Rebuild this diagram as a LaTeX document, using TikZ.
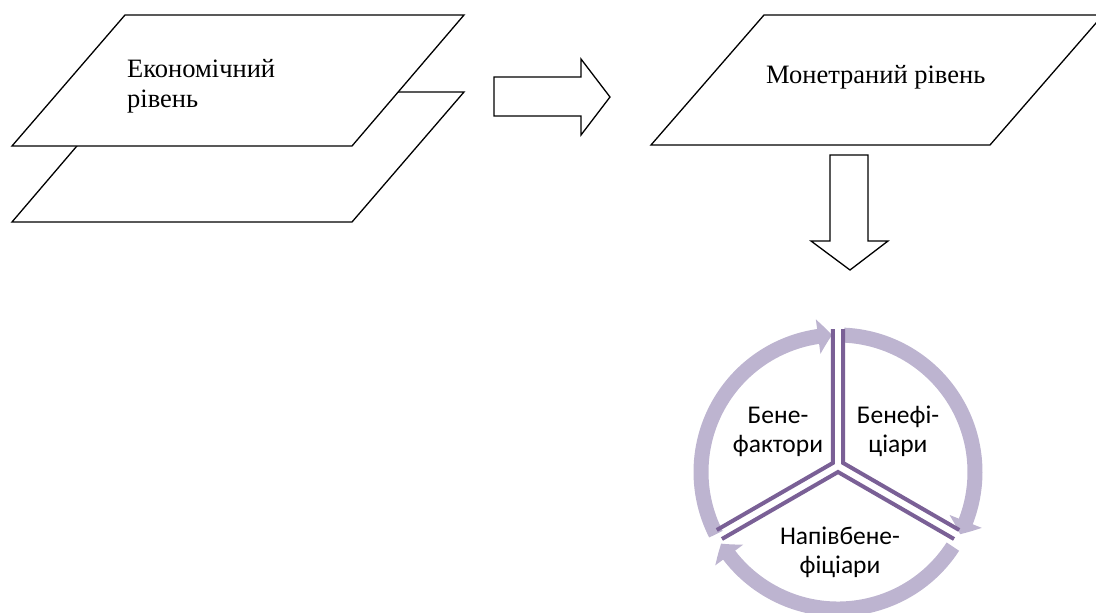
\documentclass[tikz,border=0pt]{standalone}
\usepackage{fontspec}
\setmainfont{Liberation Serif}
\newfontfamily\calib{Carlito}
\usetikzlibrary{arrows.meta, bending, calc}
\definecolor{ringcol}{RGB}{189,180,208}
\definecolor{pielines}{RGB}{122,96,150}
\tikzset{
  plane/.style={draw=black, line width=1.3pt, fill=white, line join=miter},
  blockarrow/.style={draw=black, line width=1.3pt, fill=white, line join=miter},
  serlabel/.style={font=\fontsize{26.5}{30}\selectfont, align=left, inner sep=0pt},
  pielabel/.style={font=\calib\fontsize{25.5}{29}\selectfont, align=center, inner sep=0pt},
  ringarc/.style={draw=ringcol, line width=15pt,
    -{Triangle[length=14pt, width=34pt, bend]}},
  divider/.style={draw=pielines, line width=4pt, line join=miter}
}
\begin{document}
\begin{tikzpicture}[x=1pt, y=-1pt]
\useasboundingbox (0,0) rectangle (1096,613);

% two stacked planes of the economic level
\draw[plane] (123,92) -- (464,92) -- (352,222) -- (12,222) -- cycle;
\draw[plane] (125,15) -- (464,15) -- (352,146) -- (12,146) -- cycle;
\node[serlabel, anchor=base west] (econ) at (127,107) {Економічний\\рівень};

% plane of the monetary level
\draw[plane] (764,15) -- (1103,15) -- (990,145) -- (651,145) -- cycle;
\node[serlabel, anchor=base west] (mon) at (766,83) {Монетраний рівень};

% block arrow to the right
\draw[blockarrow] (494,77) -- (581,77) -- (581,59) -- (610,97) -- (581,135)
  -- (581,116) -- (494,116) -- cycle;

% block arrow downwards
\draw[blockarrow] (830,155) -- (868,155) -- (868,241) -- (888,241) -- (850,270)
  -- (811,241) -- (830,241) -- cycle;

% cycle of three segments
\begin{scope}[shift={(838,472)}, yscale=-1]
  \draw[ringarc] (207:137) arc[start angle=207, end angle=92.5, radius=137];
  \draw[ringarc] (87.5:137) arc[start angle=87.5, end angle=-27, radius=137];
  \draw[ringarc] (-33:137) arc[start angle=-33, end angle=-148.5, radius=137];

  \coordinate (s1) at (-5.2,9);
  \coordinate (s2) at (5.2,9);
  \coordinate (s3) at (0,0);
  \draw[divider] ($(s1)+(90:134)$) -- (s1) -- ($(s1)+(210:134)$);
  \draw[divider] ($(s2)+(90:134)$) -- (s2) -- ($(s2)+(-30:134)$);
  \draw[divider] ($(s3)+(210:134)$) -- (s3) -- ($(s3)+(-30:134)$);
\end{scope}

\node[pielabel, anchor=base] (bf) at (778,452) {Бене-\\фактори};
\node[pielabel, anchor=base] (bc) at (898,452) {Бенефі-\\ціари};
\node[pielabel, anchor=base] (nb) at (840,573) {Напівбене-\\фіціари};
\end{tikzpicture}
\end{document}
